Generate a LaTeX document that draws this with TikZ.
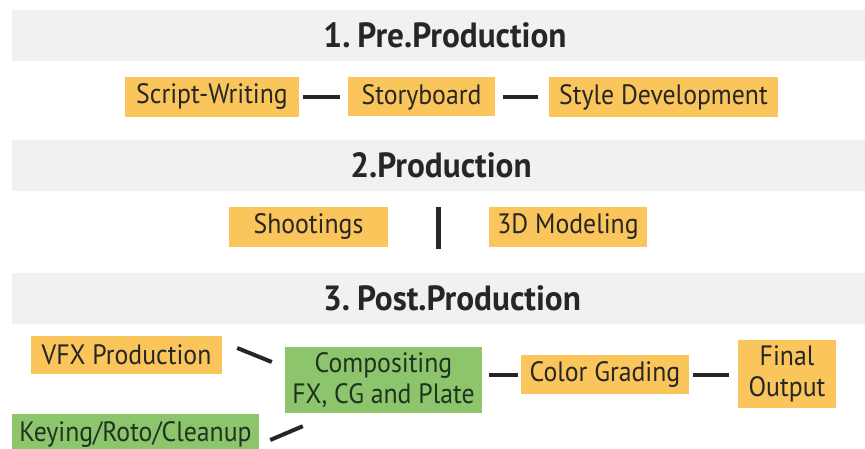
\documentclass[tikz,border=0pt]{standalone}
\usepackage{fontspec}
\setmainfont{PT Sans}[FakeStretch=0.92]
\newfontfamily\headfont{PT Sans}[FakeStretch=0.95]
\definecolor{band}{HTML}{F1F1F3}
\definecolor{orng}{HTML}{FAC55A}
\definecolor{grn}{HTML}{8DC56C}
\definecolor{ink}{HTML}{262626}
\definecolor{ginkc}{HTML}{1E3320}
\begin{document}
\begin{tikzpicture}[x=1pt,y=-1pt,
  head/.style={font=\headfont\bfseries\fontsize{35}{38}\selectfont,text=ink,inner sep=0pt},
  obox/.style={fill=orng,draw=none,text=ink,font=\fontsize{28}{31}\selectfont,inner sep=0pt,align=center},
  gbox/.style={fill=grn,draw=none,text=ginkc,font=\fontsize{28}{31}\selectfont,inner sep=0pt,align=center},
  conn/.style={draw=ink,line width=4pt}]
\useasboundingbox (0,0) rectangle (865,449);
\clip (0,0) rectangle (865,449);
% bands
\fill[band] (12,10) rectangle (865,61);
\fill[band] (12,140) rectangle (865,191);
\fill[band] (12,273) rectangle (865,324);
\node[head] (h1) at (445,35) {1.\hspace{7pt}Pre.Production};
\node[head] (h2) at (441,165) {2.Production};
\node[head] (h3) at (452,298) {3.\hspace{7pt}Post.Production};
% row 1
\node[obox,minimum width=174pt,minimum height=40pt] (sw) at (212,97) {Script-Writing};
\node[obox,minimum width=147pt,minimum height=39pt] (sb) at (421.5,97) {Storyboard};
\node[obox,minimum width=229pt,minimum height=40pt] (sd) at (663.5,97) {Style Development};
\draw[conn,shorten <=4pt,shorten >=8pt] (sw.east) -- (sb.west);
\draw[conn,shorten <=8pt,shorten >=11pt] (sb.east) -- (sd.west);
% row 2
\node[obox,minimum width=159pt,minimum height=40pt] (sh) at (308.5,227) {Shootings};
\node[obox,minimum width=158pt,minimum height=40pt] (md) at (568,227) {3D Modeling};
\coordinate (vt) at (438,207);
\coordinate (vb) at (438,249);
\draw[conn,line width=5pt] (vt) -- (vb);
% row 3
\node[obox,minimum width=191pt,minimum height=38pt] (vfx) at (126.5,355) {VFX Production};
\node[gbox,minimum width=197pt,minimum height=66pt] (comp) at (383.5,380) {Compositing\\FX, CG and Plate};
\node[obox,minimum width=168pt,minimum height=39pt] (cg) at (605,374.5) {Color Grading};
\node[obox,minimum width=98pt,minimum height=68pt] (fo) at (787,374) {Final\\Output};
\node[gbox,minimum width=247pt,minimum height=40pt] (key) at (135.5,434) {Keying/Roto/Cleanup};
\draw[conn] ([xshift=15pt,yshift=7pt]vfx.east) -- ([xshift=-13pt,yshift=18pt]comp.west);
\draw[conn] ([xshift=11pt,yshift=-6pt]key.east) -- ([xshift=18pt,yshift=-13pt]comp.south west);
\draw[conn,shorten <=7pt,shorten >=3pt] (comp.east |- cg.west) -- (cg.west);
\draw[conn,shorten <=4pt,shorten >=9pt] (cg.east) -- (fo.west |- cg.east);
\end{tikzpicture}
\end{document}
